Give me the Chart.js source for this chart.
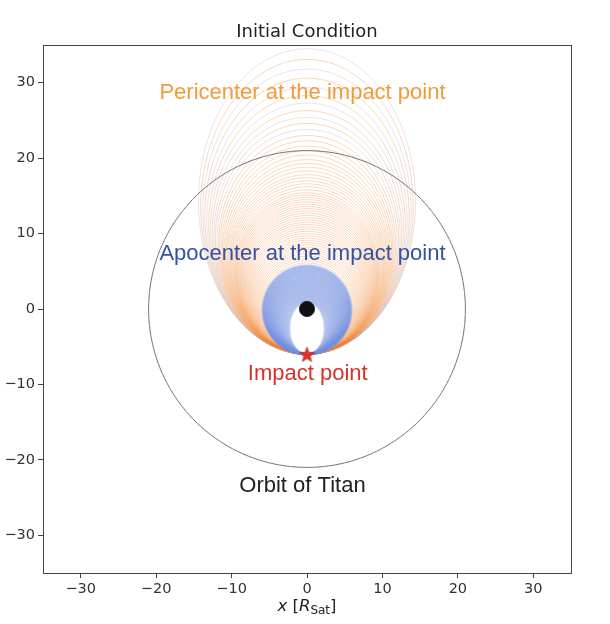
<!DOCTYPE html>
<html>
<head>
<meta charset="utf-8">
<script src="https://cdn.jsdelivr.net/npm/chart.js@4.4.1/dist/chart.umd.min.js"></script>
<style>
  html, body { margin: 0; padding: 0; background: #fff; }
  #wrap { width: 610px; height: 624px; }
</style>
</head>
<body>
<div id="wrap"><canvas id="chart" width="610" height="624"></canvas></div>
<script>
// --- values (units: Saturn radii) ---
const impactR = 6;          // impact point sits at (0, -6)
const titanR = 21;          // orbit of Titan
const saturnR = 1;

// apocenter distances of the orange orbits (pericenter at the impact point)
const orangeApo = [34.5, 33.1, 31.8, 30.6, 29.4, 28.3, 27.3, 26.3, 25.4, 24.6,
  23.8, 23.0, 22.3, 21.6, 21.0, 20.4, 19.8, 19.3, 18.8, 18.3,
  17.8, 17.4, 17.0, 16.6, 16.2, 15.8, 15.4, 15.1, 14.8, 14.5,
  14.2, 13.9, 13.6, 13.3, 13.0, 12.7, 12.4, 12.1, 11.8, 11.5,
  11.2, 10.9, 10.6, 10.3, 10.0, 9.7, 9.4, 9.1, 8.8, 8.5,
  8.2, 7.9, 7.6, 7.3, 7.0, 6.7, 6.4, 6.1];

// pericenter distances of the blue orbits (apocenter at the impact point)
const bluePeri = [0.9, 1.0, 1.1, 1.2, 1.3, 1.4, 1.5, 1.6, 1.7, 1.8,
  1.9, 2.0, 2.1, 2.2, 2.3, 2.4, 2.5, 2.6, 2.7, 2.8,
  2.9, 3.0, 3.1, 3.2, 3.3, 3.4, 3.5, 3.6, 3.7, 3.8,
  3.9, 4.0, 4.1, 4.2, 4.3, 4.4, 4.5, 4.6, 4.7, 4.8,
  4.9, 5.0, 5.1, 5.2, 5.3, 5.4, 5.5, 5.6, 5.7, 5.8];

const xTicks = [-30, -20, -10, 0, 10, 20, 30];
const yTicks = [-30, -20, -10, 0, 10, 20, 30];

const labels = [
  { text: "Pericenter at the impact point", x: -0.6, y: 28.7, color: "#f29b3a" },
  { text: "Apocenter at the impact point", x: -0.6, y: 7.3, color: "#3352a6" },
  { text: "Impact point", x: 0.1, y: -8.6, color: "#d8302a" },
  { text: "Orbit of Titan", x: -0.6, y: -23.4, color: "#222222" },
];

// Kepler ellipse with the focus at Saturn, one vertex at the impact point (0,-6)
// and the other on the +y axis at distance r
function keplerOrbit(r) {
  const a = (impactR + r) / 2;
  const yc = (r - impactR) / 2;
  const b = Math.sqrt(impactR * r);
  const pts = [];
  const n = 160;
  for (let i = 0; i <= n; i++) {
    const t = (i / n) * 2 * Math.PI;
    pts.push({ x: b * Math.sin(t), y: yc + a * Math.cos(t) });
  }
  return pts;
}

function circle(R) {
  const pts = [];
  const n = 180;
  for (let i = 0; i <= n; i++) {
    const t = (i / n) * 2 * Math.PI;
    pts.push({ x: R * Math.sin(t), y: R * Math.cos(t) });
  }
  return pts;
}

// filled five-point star for the impact marker
function starImage(size) {
  const c = document.createElement("canvas");
  c.width = size; c.height = size;
  const g = c.getContext("2d");
  const cx = size / 2, cy = size / 2 + 0.8, ro = size / 2 - 0.5, ri = ro * 0.42;
  g.beginPath();
  for (let i = 0; i < 10; i++) {
    const r = i % 2 === 0 ? ro : ri;
    const ang = -Math.PI / 2 + (i * Math.PI) / 5;
    g.lineTo(cx + r * Math.cos(ang), cy + r * Math.sin(ang));
  }
  g.closePath();
  g.fillStyle = "#e0302c";
  g.fill();
  g.strokeStyle = "#a02020";
  g.lineWidth = 0.6;
  g.stroke();
  return c;
}

const datasets = [];

orangeApo.forEach((r, i) => {
  const grey = i % 2 === 0 && i < 12;
  datasets.push({
    data: keplerOrbit(r),
    showLine: true,
    tension: 0.001,
    borderColor: grey ? "rgba(185,165,185,0.4)" : "rgba(238,130,40,0.4)",
    borderWidth: 0.8,
    pointRadius: 0,
    order: 5,
  });
});

datasets.push({
  data: circle(titanR),
  showLine: true,
  tension: 0.001,
  borderColor: "#6e6872",
  borderWidth: 1,
  pointRadius: 0,
  order: 4,
});

bluePeri.forEach((r) => {
  datasets.push({
    data: keplerOrbit(r),
    showLine: true,
    tension: 0.001,
    borderColor: "rgba(115,145,222,0.28)",
    borderWidth: 2.2,
    pointRadius: 0,
    order: 3,
  });
});

datasets.push({
  data: circle(saturnR),
  showLine: true,
  tension: 0.001,
  borderColor: "#111",
  backgroundColor: "#111",
  borderWidth: 1,
  fill: "shape",
  pointRadius: 0,
  order: 2,
});

datasets.push({
  data: [{ x: 0, y: -impactR }],
  pointStyle: starImage(17),
  pointRadius: 8,
  order: 1,
});

const textPlugin = {
  id: "texts",
  afterDatasetsDraw(chart) {
    const { ctx, scales } = chart;
    ctx.save();
    ctx.font = '22px "Liberation Sans", Arial, sans-serif';
    ctx.textAlign = "center";
    ctx.textBaseline = "middle";
    labels.forEach((l) => {
      ctx.fillStyle = l.color;
      ctx.fillText(l.text, scales.x.getPixelForValue(l.x), scales.y.getPixelForValue(l.y));
    });
    ctx.restore();
  },
  afterDraw(chart) {
    const { ctx, chartArea: a } = chart;
    ctx.save();
    ctx.strokeStyle = "#444";
    ctx.lineWidth = 1;
    ctx.strokeRect(Math.round(a.left) + 0.5, Math.round(a.top) + 0.5,
      Math.round(a.right - a.left), Math.round(a.bottom - a.top));

    // title, centred over the plot area
    ctx.fillStyle = "#222";
    ctx.font = '18px "DejaVu Sans"';
    ctx.textAlign = "center";
    ctx.textBaseline = "alphabetic";
    ctx.fillText("Initial Condition", (a.left + a.right) / 2, 37);

    // x-axis label: x [R_Sat]
    const base = '16.5px "DejaVu Sans"';
    const ital = 'italic 16.5px "DejaVu Sans"';
    const sub = '12px "DejaVu Sans"';
    const parts = [
      { t: "x", f: ital, dy: 0 },
      { t: " [", f: base, dy: 0 },
      { t: "R", f: ital, dy: 0 },
      { t: "Sat", f: sub, dy: 3 },
      { t: "]", f: base, dy: 0 },
    ];
    let w = 0;
    parts.forEach((p) => { ctx.font = p.f; p.w = ctx.measureText(p.t).width; w += p.w; });
    let x = (a.left + a.right) / 2 - w / 2;
    const y = 611;
    ctx.textAlign = "left";
    parts.forEach((p) => { ctx.font = p.f; ctx.fillText(p.t, x, y + p.dy); x += p.w; });
    ctx.restore();
  },
};

const tickFmt = (v) => String(v).replace("-", "\u2212");

new Chart(document.getElementById("chart"), {
  type: "scatter",
  data: { datasets },
  options: {
    responsive: false,
    animation: false,
    events: [],
    layout: { padding: { left: 0, right: 39, top: 45, bottom: 0 } },
    plugins: {
      legend: { display: false },
      tooltip: { enabled: false },
      title: { display: false },
    },
    scales: {
      x: {
        type: "linear",
        min: -35,
        max: 35,
        afterBuildTicks: (s) => { s.ticks = xTicks.map((v) => ({ value: v })); },
        afterFit: (s) => { s.height = 51; },
        ticks: { color: "#333", font: { family: "DejaVu Sans", size: 14.5 }, padding: 3, callback: tickFmt, maxRotation: 0 },
        grid: { drawOnChartArea: false, drawTicks: true, tickLength: 5, color: "#444" },
        border: { display: false },
      },
      y: {
        type: "linear",
        min: -35,
        max: 35,
        afterBuildTicks: (s) => { s.ticks = yTicks.map((v) => ({ value: v })); },
        afterFit: (s) => { s.width = 43; },
        ticks: { color: "#333", font: { family: "DejaVu Sans", size: 14.5 }, padding: 3, callback: tickFmt },
        grid: { drawOnChartArea: false, drawTicks: true, tickLength: 5, color: "#444" },
        border: { display: false },
      },
    },
  },
  plugins: [textPlugin],
});
</script>
</body>
</html>
